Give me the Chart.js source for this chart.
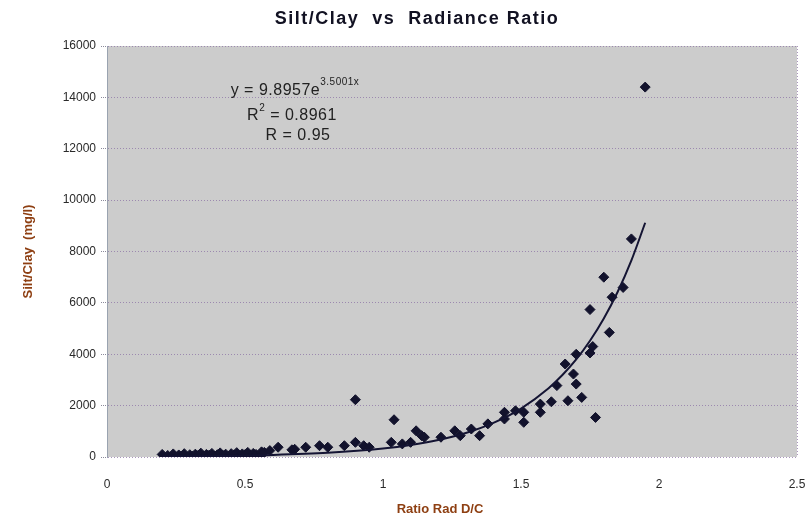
<!DOCTYPE html>
<html>
<head>
<meta charset="utf-8">
<script src="https://cdn.jsdelivr.net/npm/chart.js@4.4.1/dist/chart.umd.min.js"></script>
<style>
  html, body { margin: 0; padding: 0; background: #fff; }
</style>
</head>
<body>
<canvas id="chart" width="811" height="527"></canvas>
<script>
// measured samples: ratio of radiance D/C vs silt/clay (mg/l)
var ratioX = [
  0.20, 0.22, 0.24, 0.26, 0.27, 0.28, 0.30, 0.31, 0.32, 0.33, 0.34, 0.35, 0.36, 0.37,
  0.38, 0.39, 0.40, 0.41, 0.42, 0.43, 0.44, 0.45, 0.46, 0.47, 0.48, 0.49, 0.50, 0.51,
  0.52, 0.53, 0.54, 0.55, 0.56,
  0.57, 0.59, 0.62, 0.67, 0.68, 0.72, 0.77, 0.80, 0.86, 0.90, 0.93, 0.95, 0.90,
  1.03, 1.04, 1.07, 1.10, 1.12, 1.14, 1.15, 1.21, 1.26, 1.28, 1.32, 1.35, 1.38,
  1.44, 1.44, 1.48, 1.51, 1.51, 1.57, 1.57, 1.61, 1.63, 1.66, 1.67, 1.69, 1.70,
  1.70, 1.72, 1.75, 1.75, 1.76, 1.77, 1.80, 1.82, 1.83, 1.87, 1.90, 1.95
];
var siltY = [
  100, 60, 120, 80, 40, 130, 90, 30, 110, 60, 150, 20, 100, 70,
  140, 40, 90, 160, 60, 110, 30, 130, 80, 170, 50, 120, 90, 180,
  60, 140, 100, 30, 200,
  180, 250, 380, 280, 300, 380, 440, 380, 440, 570, 440, 380, 2230,
  570, 1450, 510, 570, 1020, 830, 770, 770, 1020, 830, 1090, 830, 1290,
  1740, 1480, 1800, 1740, 1350, 2060, 1740, 2150, 2780, 3620, 2190, 3230, 4000,
  2840, 2320, 5740, 4050, 4300, 1540, 7000, 4850, 6220, 6600, 8490, 14400
];

// exponential trend line
var trendX = [0.20, 0.40, 0.60, 0.80, 1.00, 1.10, 1.20, 1.30, 1.40, 1.50, 1.60, 1.65, 1.70, 1.75, 1.80, 1.85, 1.90, 1.95];
var trendY = [20, 40, 81, 163, 328, 465, 660, 937, 1330, 1886, 2677, 3190, 3800, 4527, 5393, 6425, 7655, 9120];

var xTicks = [0, 0.5, 1, 1.5, 2, 2.5];
var yTicks = [0, 2000, 4000, 6000, 8000, 10000, 12000, 14000, 16000];

var TITLE = 'Silt/Clay  vs  Radiance Ratio';
var X_TITLE = 'Ratio Rad D/C';
var Y_TITLE = 'Silt/Clay  (mg/l)';
var EQ_MAIN = 'y = 9.8957e', EQ_EXP = '3.5001x';
var R2_TEXT = ' = 0.8961', R_TEXT = 'R = 0.95';

var FONT = 'Arial, "Liberation Sans", sans-serif';
var AXIS_BROWN = '#8e3f12';
var MARK = '#12122c';
var GRID = 'rgba(140,115,165,0.75)';

function zip(xs, ys) {
  return xs.map(function (x, i) { return { x: x, y: ys[i] }; });
}

// gray plot area + dotted right edge
var plotBg = {
  id: 'plotBg',
  beforeDraw: function (chart) {
    var a = chart.chartArea, c = chart.ctx;
    c.save();
    c.fillStyle = '#cccccc';
    c.fillRect(a.left, a.top, a.right - a.left, a.bottom - a.top);
    c.strokeStyle = GRID;
    c.setLineDash([1, 2]);
    c.beginPath();
    c.moveTo(a.right + 0.5, a.top);
    c.lineTo(a.right + 0.5, a.bottom);
    c.stroke();
    c.restore();
  }
};

// chart title, x-axis title and the trend-line equation
var labels = {
  id: 'labels',
  afterDraw: function (chart) {
    var c = chart.ctx;
    c.save();
    c.fillStyle = '#111122';
    c.textAlign = 'center';
    c.textBaseline = 'middle';
    c.font = 'bold 18px ' + FONT;
    c.letterSpacing = '1.5px';
    c.fillText(TITLE, 417, 19);

    c.letterSpacing = '0px';
    c.fillStyle = AXIS_BROWN;
    c.font = 'bold 13px ' + FONT;
    c.fillText(X_TITLE, 440, 509);

    c.fillStyle = '#222';
    c.textAlign = 'left';
    c.textBaseline = 'alphabetic';
    c.letterSpacing = '0.5px';
    var big = '16px ' + FONT;
    var small = '10px ' + FONT;

    c.font = big; var w1 = c.measureText(EQ_MAIN).width;
    c.font = small; var w2 = c.measureText(EQ_EXP).width;
    var x0 = 295 - (w1 + w2) / 2;
    c.font = big; c.fillText(EQ_MAIN, x0, 95);
    c.font = small; c.fillText(EQ_EXP, x0 + w1, 85);

    c.font = big; var r1 = c.measureText('R').width, r3 = c.measureText(R2_TEXT).width;
    c.font = small; var r2 = c.measureText('2').width;
    x0 = 292 - (r1 + r2 + r3) / 2;
    c.font = big; c.fillText('R', x0, 120);
    c.font = small; c.fillText('2', x0 + r1, 111);
    c.font = big; c.fillText(R2_TEXT, x0 + r1 + r2, 120);

    c.textAlign = 'center';
    c.fillText(R_TEXT, 298, 140);
    c.restore();
  }
};

new Chart(document.getElementById('chart'), {
  type: 'scatter',
  data: {
    datasets: [{
      label: 'Silt/Clay',
      data: zip(ratioX, siltY),
      pointStyle: 'rectRot',
      pointRadius: 5,
      backgroundColor: MARK,
      borderColor: MARK,
      borderWidth: 1,
      order: 1
    }, {
      label: 'Expon.',
      type: 'line',
      data: zip(trendX, trendY),
      borderColor: '#141433',
      borderWidth: 2,
      pointRadius: 0,
      tension: 0.4,
      cubicInterpolationMode: 'monotone',
      fill: false,
      order: 0
    }]
  },
  options: {
    responsive: false,
    animation: false,
    layout: { padding: { top: 46, right: 14, left: 0, bottom: 0 } },
    plugins: {
      legend: { display: false },
      title: { display: false },
      tooltip: { enabled: false }
    },
    scales: {
      x: {
        type: 'linear', min: 0, max: 2.5,
        afterBuildTicks: function (s) { s.ticks = xTicks.map(function (v) { return { value: v }; }); },
        afterFit: function (s) { s.height = 70; s.paddingLeft = 0; s.paddingRight = 0; },
        grid: { drawOnChartArea: false, color: 'rgba(0,0,0,0)', tickLength: 6 },
        border: { display: false },
        ticks: {
          padding: 14, color: '#2a2a2a',
          font: { family: FONT, size: 12 },
          callback: function (v) { return String(v); }
        }
      },
      y: {
        min: 0, max: 16000,
        afterBuildTicks: function (s) { s.ticks = yTicks.map(function (v) { return { value: v }; }); },
        afterFit: function (s) { s.width = 107; },
        grid: {
          color: GRID, tickLength: 6,
          tickColor: '#8a8a9a', tickBorderDash: [1, 1]
        },
        border: { display: true, color: '#9aa3b0', width: 1, dash: [1, 2] },
        ticks: {
          padding: 5, color: '#2a2a2a',
          font: { family: FONT, size: 12 },
          callback: function (v) { return String(v); }
        },
        title: {
          display: true, text: Y_TITLE, color: AXIS_BROWN,
          font: { family: FONT, size: 13, weight: 'bold' },
          padding: { top: 21 }
        }
      }
    }
  },
  plugins: [plotBg, labels]
});
</script>
</body>
</html>
